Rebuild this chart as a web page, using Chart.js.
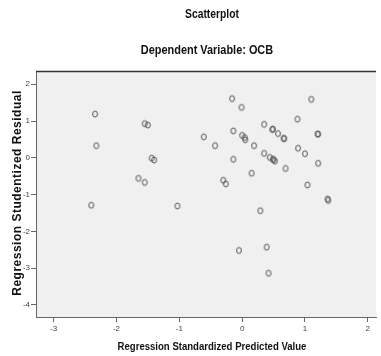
<!DOCTYPE html>
<html lang="en">
<head>
  <meta charset="UTF-8">
  <title>Scatterplot - Dependent Variable: OCB</title>
  <script src="https://cdn.jsdelivr.net/npm/chart.js"></script>
  <style>
    html, body { margin: 0; padding: 0; background: #fff; }
    #wrap { position: relative; width: 381px; height: 356px; }
  </style>
</head>
<body>
<div id="wrap"><canvas id="scatter" width="381" height="356"></canvas></div>

<script>
const chartTitle = 'Scatterplot';
const chartSubtitle = 'Dependent Variable: OCB';
const xTitle = 'Regression Standardized Predicted Value';
const yTitle = 'Regression Studentized Residual';

const xTicks = [-3, -2, -1, 0, 1, 2];
const yTicks = [-4, -3, -2, -1, 0, 1, 2];

// standardized predicted value
const predicted = [
  -2.34, -1.55, -1.50, -2.32, -1.44, -1.40, -1.65, -1.55, -2.40, -1.03,
  -0.16, -0.01, 0.35, -0.14, 0.00, 0.04, 0.05, -0.61, -0.43, 0.19,
  0.35, -0.14, 0.15, -0.30, -0.26, 1.10, 0.88, 0.48, 0.49, 0.57,
  0.66, 0.67, 1.20, 1.21, 0.44, 0.49, 0.50, 0.52, 0.89, 1.00,
  1.21, 0.69, 1.04, 1.36, 1.37, 0.29, -0.05, 0.39, 0.42
];
// studentized residual
const residual = [
  1.19, 0.93, 0.89, 0.33, -0.01, -0.06, -0.56, -0.67, -1.29, -1.31,
  1.61, 1.37, 0.91, 0.73, 0.61, 0.55, 0.49, 0.57, 0.33, 0.33,
  0.12, -0.04, -0.42, -0.61, -0.71, 1.59, 1.05, 0.77, 0.78, 0.66,
  0.53, 0.52, 0.65, 0.64, 0.01, -0.04, -0.05, -0.09, 0.26, 0.11,
  -0.15, -0.29, -0.74, -1.12, -1.16, -1.44, -2.52, -2.43, -3.14
];

const points = predicted.map((x, i) => ({ x: x, y: residual[i] }));

// SPSS style open marker (a bit taller than wide)
const marker = document.createElement('canvas');
marker.width = 8; marker.height = 10;
const mctx = marker.getContext('2d');
mctx.strokeStyle = '#555';
mctx.lineWidth = 1;
mctx.beginPath();
mctx.ellipse(4, 5, 2.4, 3.0, 0, 0, Math.PI * 2);
mctx.stroke();

const sans = "'Liberation Sans', Arial, sans-serif";

// text squeezed horizontally, SPSS fonts are narrow
function squeezed(ctx, text, cx, cy, font, sx, rot) {
  ctx.save();
  ctx.translate(cx, cy);
  if (rot) ctx.rotate(rot);
  ctx.scale(sx, 1);
  ctx.font = font;
  ctx.fillStyle = '#111';
  ctx.textAlign = 'center';
  ctx.textBaseline = 'middle';
  ctx.fillText(text, 0, 0);
  ctx.restore();
}

const frame = {
  id: 'spssFrame',
  beforeDraw(chart) {
    const { ctx, chartArea: a } = chart;
    ctx.save();
    ctx.fillStyle = '#f0f0f0';
    ctx.fillRect(a.left, a.top, a.right - a.left, a.bottom - a.top);
    ctx.restore();
  },
  afterDraw(chart) {
    const { ctx, chartArea: a } = chart;
    ctx.save();
    ctx.strokeStyle = '#333';
    ctx.lineWidth = 1.5;
    ctx.beginPath();
    ctx.moveTo(a.left, a.top + 0.5);
    ctx.lineTo(a.right, a.top + 0.5);
    ctx.stroke();
    ctx.restore();

    squeezed(ctx, chartTitle, 212, 15, 'bold 12px ' + sans, 0.86);
    squeezed(ctx, chartSubtitle, 207, 51, 'bold 12px ' + sans, 0.91);
    squeezed(ctx, xTitle, 212, 347, 'bold 11px ' + sans, 0.87);
    ctx.save();
    ctx.letterSpacing = '0.5px';
    squeezed(ctx, yTitle, 18, 193, 'bold 12px ' + sans, 1, -Math.PI / 2);
    ctx.restore();
  }
};

new Chart(document.getElementById('scatter'), {
  type: 'scatter',
  data: {
    datasets: [{
      data: points,
      pointStyle: marker,
      pointRadius: 3,
      borderColor: '#555',
      backgroundColor: 'transparent'
    }]
  },
  options: {
    responsive: false,
    animation: false,
    layout: { padding: { top: 71, right: 1, left: 0, bottom: 0 } },
    plugins: { legend: { display: false }, tooltip: { enabled: false } },
    scales: {
      x: {
        type: 'linear',
        min: -3.28,
        max: 2.13,
        afterBuildTicks: s => { s.ticks = xTicks.map(v => ({ value: v })); },
        afterFit: s => { s.height = 39; },
        grid: { drawOnChartArea: false, tickLength: 5, color: '#666' },
        border: { color: '#666', width: 1 },
        ticks: { color: '#444', font: { size: 8, family: sans }, padding: 2 }
      },
      y: {
        type: 'linear',
        min: -4.33,
        max: 2.36,
        afterBuildTicks: s => { s.ticks = yTicks.map(v => ({ value: v })); },
        afterFit: s => { s.width = 36; },
        grid: { drawOnChartArea: false, tickLength: 5, color: '#666' },
        border: { color: '#666', width: 1 },
        ticks: { color: '#444', font: { size: 8, family: sans }, padding: 1 }
      }
    }
  },
  plugins: [frame]
});
</script>
</body>
</html>
